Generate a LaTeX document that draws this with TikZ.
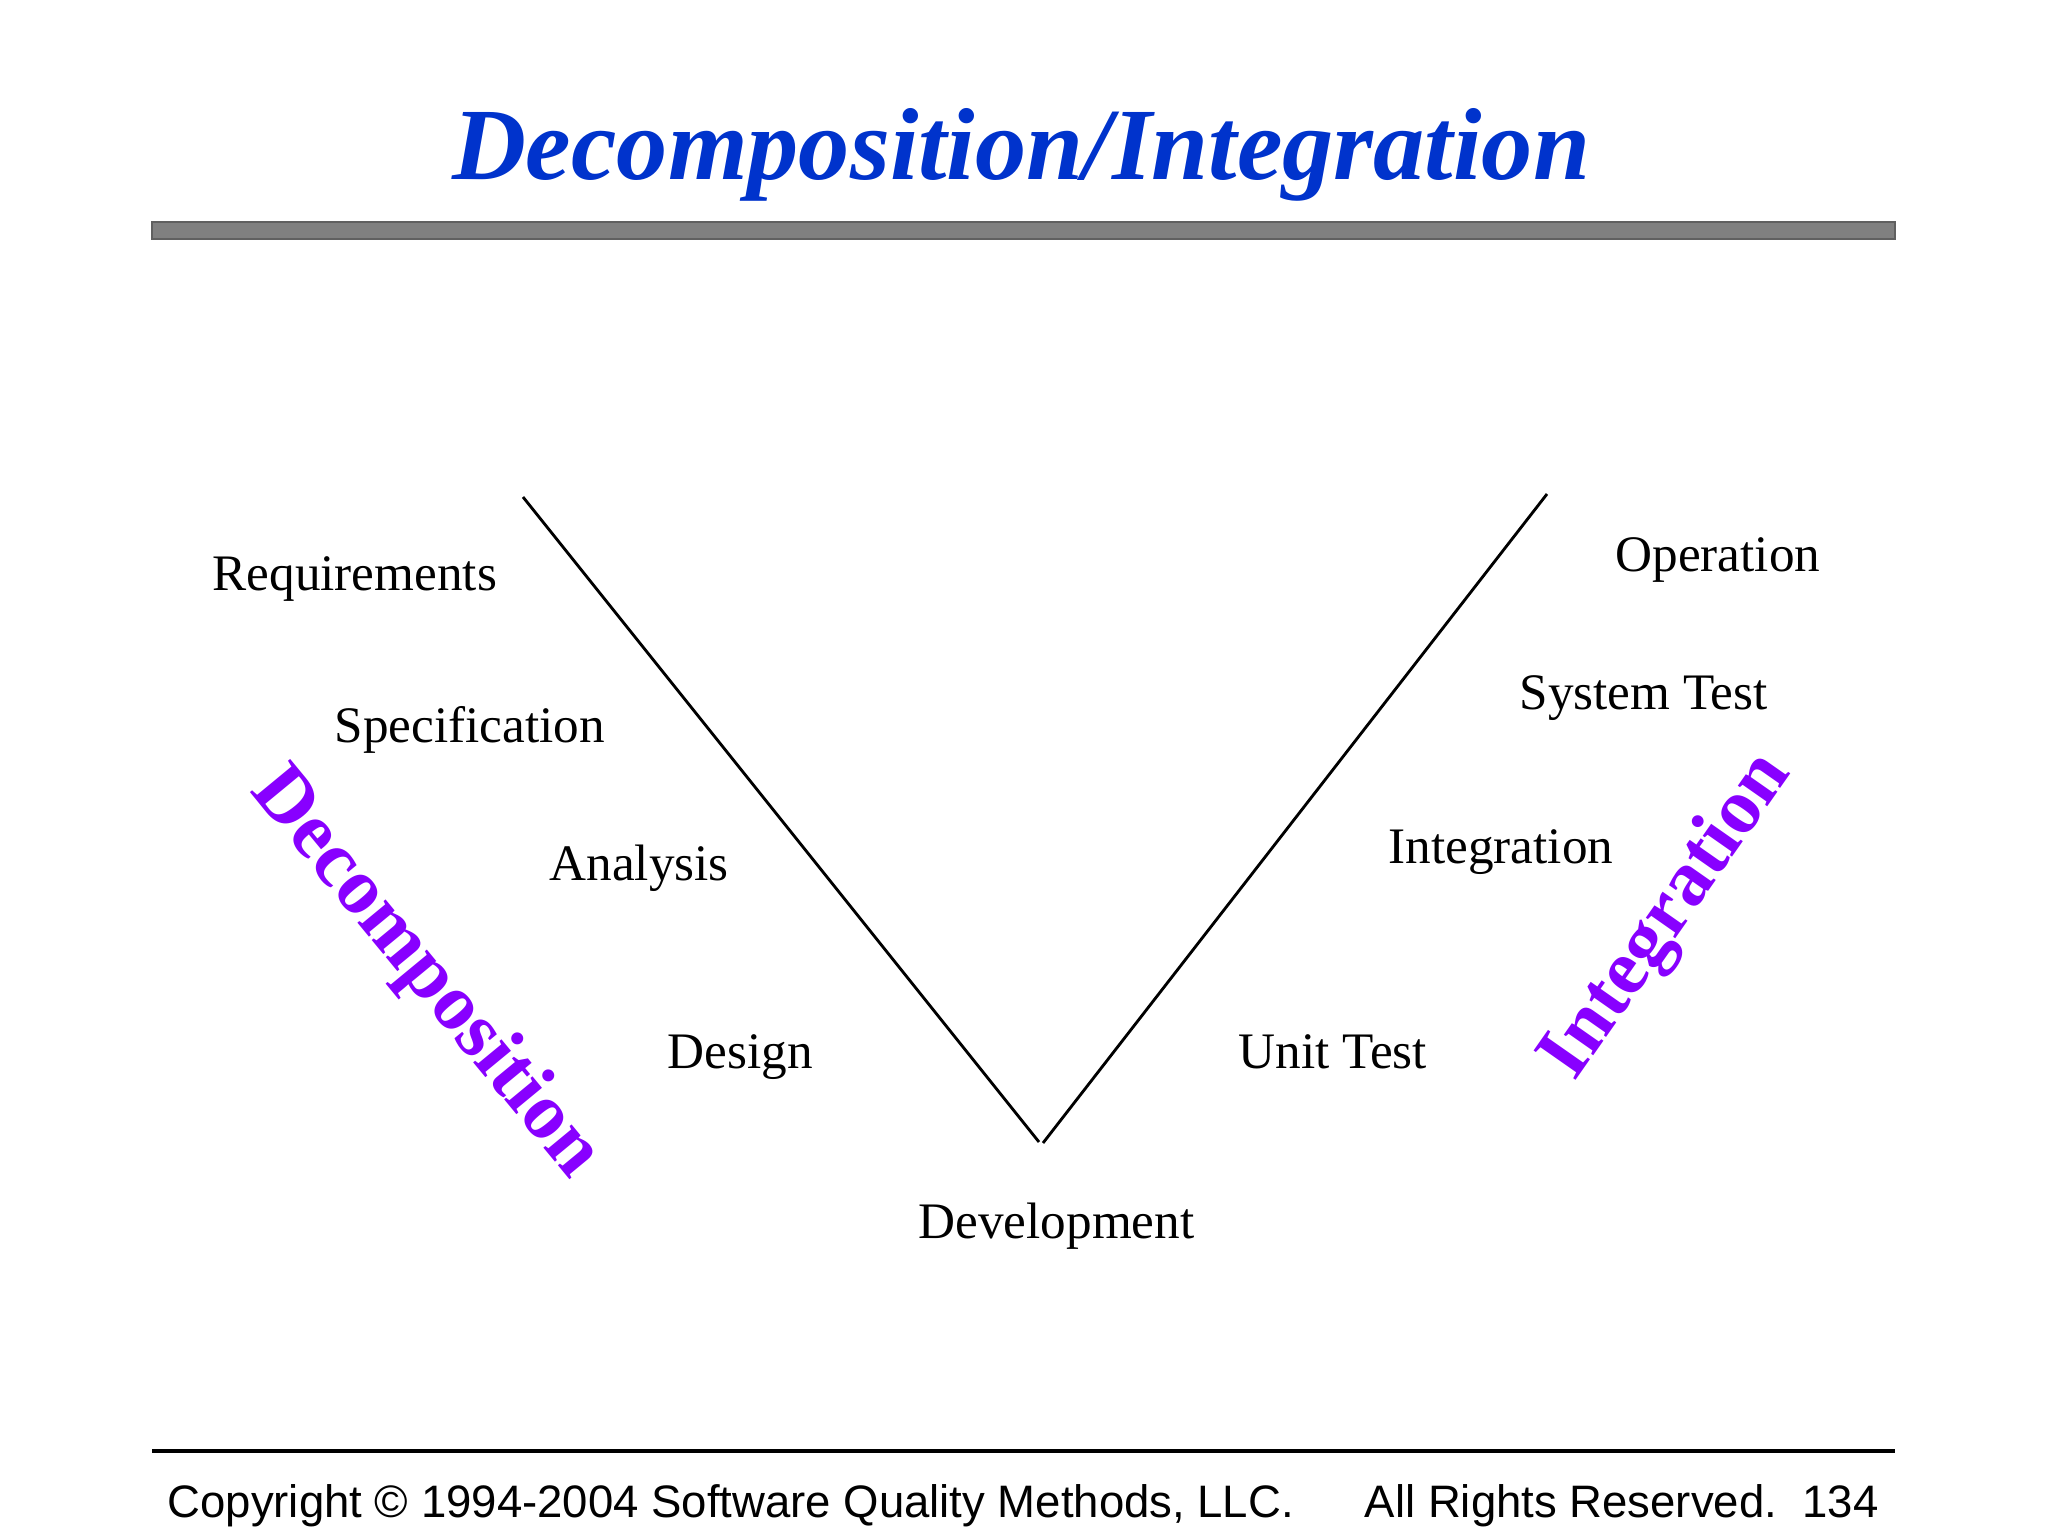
\documentclass[tikz,border=0pt]{standalone}
\usepackage{fontspec}
\setmainfont{Liberation Serif}
\newfontfamily\footfont{Liberation Sans}
\definecolor{titleblue}{RGB}{0,51,204}
\definecolor{vpurple}{RGB}{136,0,255}
\definecolor{barfill}{RGB}{128,128,128}
\definecolor{baredge}{RGB}{96,96,96}
\begin{document}
\begin{tikzpicture}[x=0.3515625pt, y=-0.3515625pt,
  lbl/.style={anchor=base west, inner sep=0pt, font=\fontsize{18}{20}\selectfont},
  side/.style={inner sep=0pt, text=vpurple},
  vline/.style={line width=1pt, black},
  foot/.style={inner sep=0pt, font=\footfont\fontsize{16}{18}\selectfont}]
\useasboundingbox[fill=white] (0,0) rectangle (2048,1536);
% title
\node[anchor=base, inner sep=0pt, text=titleblue, font=\fontsize{36}{40}\selectfont\bfseries\itshape] (title) at (1021,180) {Decomposition/Integration};
\draw[fill=barfill, draw=baredge, line width=0.5pt] (152,222) rectangle (1895,239);
% V
\coordinate (vl) at (523,497);
\coordinate (vbl) at (1039,1142);
\coordinate (vbr) at (1043,1143);
\coordinate (vr) at (1547,494);
\draw[vline] (vl) -- (vbl);
\draw[vline] (vbr) -- (vr);
% labels
\node[lbl] (req) at (212,590) {Requirements};
\node[lbl] (spec) at (334,742) {Specification};
\node[lbl] (ana) at (549,880) {Analysis};
\node[lbl] (des) at (667,1068) {Design};
\node[lbl] (dev) at (918,1238) {Development};
\node[lbl] (unit) at (1238,1068) {Unit Test};
\node[lbl] (integ) at (1388,863) {Integration};
\node[lbl] (sys) at (1519,709) {System Test};
\node[lbl] (op) at (1615,572) {Operation};
% side labels
\node[side, rotate=-50.5, font=\fontsize{28}{30}\selectfont\bfseries] (decomp) at (425,974) {Decomposition};
\node[side, rotate=55, font=\fontsize{27.5}{30}\selectfont\bfseries] (integr) at (1668,917) {Integration};
% footer
\draw[line width=1.1pt] (152,1451) -- (1895,1451);
\node[foot, anchor=base west] (copy) at (167,1517) {Copyright © 1994-2004 Software Quality Methods, LLC.};
\node[foot, anchor=base east] (rights) at (1879,1517) {All Rights Reserved.\ \ 134};
\end{tikzpicture}
\end{document}
